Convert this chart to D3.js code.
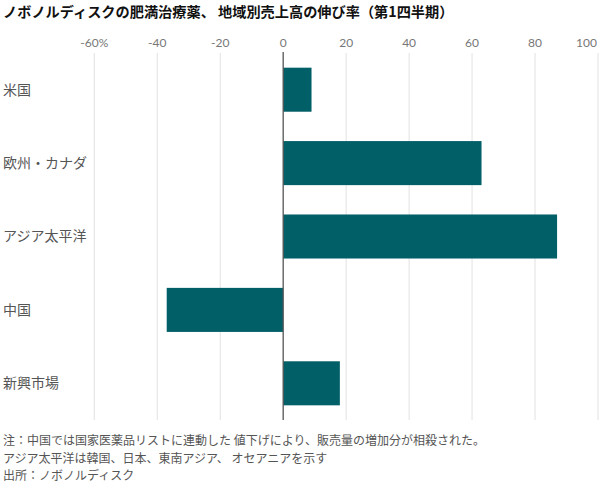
<!DOCTYPE html>
<html>
<head>
<meta charset="utf-8">
<script src="https://cdn.jsdelivr.net/npm/d3@7"></script>
<style>
  body { margin: 0; background: #fff; }
  text { font-family: "Noto Sans CJK JP", "Noto Sans", sans-serif; }
</style>
</head>
<body>
<svg width="600" height="483"></svg>
<script>
let regions = ["米国", "欧州・カナダ", "アジア太平洋", "中国", "新興市場"];
let growth = [9, 63, 87, -37, 18];
let tickValues = [-60, -40, -20, 0, 20, 40, 60, 80, 100];
let title = "ノボノルディスクの肥満治療薬、 地域別売上高の伸び率（第1四半期）";
let notes = [
  "注：中国では国家医薬品リストに連動した 値下げにより、販売量の増加分が相殺された。",
  "アジア太平洋は韓国、日本、東南アジア、 オセアニアを示す",
  "出所：ノボノルディスク"
];

let data = regions.map((r, i) => ({ region: r, value: growth[i] }));
let svg = d3.select("svg");

let scX = d3.scaleLinear()
            .domain([-60, 100])
            .range([94.3, 598]);
let scY = d3.scaleBand()
            .domain(regions)
            .range([53, 420])
            .paddingInner(0.4)
            .paddingOuter(0.2);

// title
svg.append("text")
   .attr("x", 3).attr("y", 17)
   .attr("font-size", 14.2).attr("font-weight", "bold")
   .attr("fill", "#111")
   .text(title);

// grid lines
svg.append("g")
   .selectAll("line")
   .data(tickValues.filter(d => d !== 0))
   .enter()
   .append("line")
   .attr("x1", d => scX(d)).attr("x2", d => scX(d))
   .attr("y1", 53).attr("y2", 420)
   .attr("stroke", "#e2e2e2").attr("stroke-width", 1);

// tick labels
svg.append("g")
   .selectAll("text")
   .data(tickValues)
   .enter()
   .append("text")
   .attr("x", d => d === 100 ? scX(d) - 1 : scX(d))
   .attr("y", 47)
   .attr("text-anchor", d => d === 100 ? "end" : "middle")
   .attr("font-size", 12).attr("fill", "#777")
   .style("font-family", "Lato, 'Open Sans', sans-serif")
   .text((d, i) => i === 0 ? d + "%" : d);

// bars
svg.append("g")
   .attr("fill", "#005f67")
   .selectAll("rect")
   .data(data)
   .enter()
   .append("rect")
   .attr("x", d => scX(Math.min(0, d.value)))
   .attr("width", d => Math.abs(scX(d.value) - scX(0)))
   .attr("y", d => scY(d.region))
   .attr("height", scY.bandwidth());

// zero line
svg.append("line")
   .attr("x1", scX(0)).attr("x2", scX(0))
   .attr("y1", 52).attr("y2", 420)
   .attr("stroke", "#555").attr("stroke-width", 1.3);

// category labels
svg.append("g")
   .selectAll("text")
   .data(regions)
   .enter()
   .append("text")
   .attr("x", 3)
   .attr("y", d => scY(d) + scY.bandwidth() / 2)
   .attr("dy", "0.35em")
   .attr("font-size", 14).attr("fill", "#555")
   .text(d => d);

// notes
svg.append("g")
   .selectAll("text")
   .data(notes)
   .enter()
   .append("text")
   .attr("x", 3)
   .attr("y", (d, i) => 445 + i * 17.5)
   .attr("font-size", 12).attr("fill", "#555")
   .text(d => d);
</script>
</body>
</html>
